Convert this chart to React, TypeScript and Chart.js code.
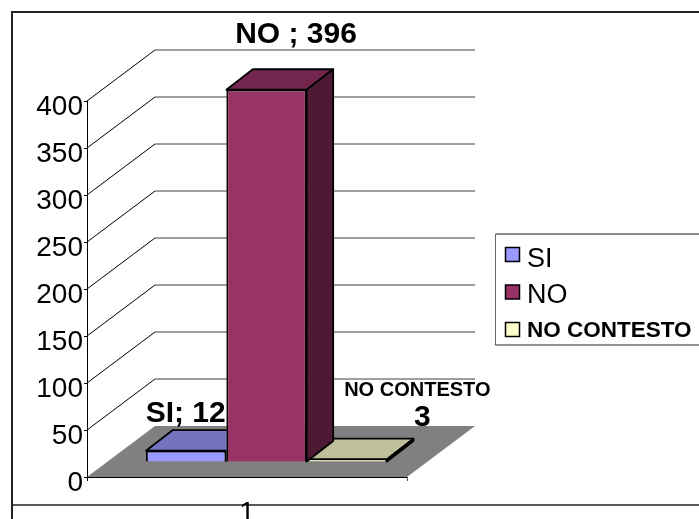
import React, { useEffect, useRef } from "react";
import { Chart, registerables } from "chart.js";

Chart.register(...registerables);

const categories = ["1"];
const seriesNames = ["SI", "NO", "NO CONTESTO"];
const siValues = [12];
const noValues = [396];
const ncValues = [3];
const yTicks = [0, 50, 100, 150, 200, 250, 300, 350, 400];
const frontColors = ["#9999FF", "#993366", "#FFFFCC"];
const topColors = ["#7373BF", "#73264D", "#BFBF99"];
const sideColors = ["#4D4D80", "#4D1A33", "#808066"];

const FONT = '"Liberation Sans", Arial, sans-serif';
const WALL = { dx: 68, dy: 51 };
const BAR = { dx: 26.5, dy: 20.5, shiftX: 19.5, shiftY: 15 };

function line(ctx: any, x1: number, y1: number, x2: number, y2: number, color = "#000", w = 1) {
  ctx.strokeStyle = color;
  ctx.lineWidth = w;
  ctx.beginPath();
  ctx.moveTo(x1, y1);
  ctx.lineTo(x2, y2);
  ctx.stroke();
}

function poly(ctx: any, pts: number[][], fill: string) {
  ctx.fillStyle = fill;
  ctx.strokeStyle = "#000";
  ctx.lineWidth = 1.8;
  ctx.lineJoin = "round";
  ctx.beginPath();
  pts.forEach((p, i) => (i ? ctx.lineTo(p[0], p[1]) : ctx.moveTo(p[0], p[1])));
  ctx.closePath();
  ctx.fill();
  ctx.stroke();
}

function text(ctx: any, s: string, x: number, y: number, font: string, align: any = "center") {
  ctx.font = font;
  ctx.fillStyle = "#000";
  ctx.textAlign = align;
  ctx.textBaseline = "middle";
  ctx.fillText(s, x, y);
}

const walls = {
  id: "walls",
  beforeDraw(chart: any) {
    const { ctx, width, height } = chart;
    ctx.save();
    ctx.fillStyle = "#fff";
    ctx.fillRect(0, 0, width, height);
    line(ctx, 11, 12, width, 12, "#222", 2);
    line(ctx, 12, 11, 12, height, "#222", 2);
    line(ctx, 11, 505, width, 505, "#222", 1.5);
    ctx.restore();
  },
  beforeDatasetsDraw(chart: any) {
    const { ctx, chartArea: a, scales } = chart;
    const y = scales.y;
    ctx.save();
    const y0 = y.getPixelForValue(0);
    ctx.fillStyle = "#808080";
    ctx.beginPath();
    ctx.moveTo(a.left, y0);
    ctx.lineTo(a.right, y0);
    ctx.lineTo(a.right + WALL.dx, y0 - WALL.dy);
    ctx.lineTo(a.left + WALL.dx, y0 - WALL.dy);
    ctx.closePath();
    ctx.fill();
    yTicks.forEach((v) => {
      if (v === 0) return;
      const py = y.getPixelForValue(v);
      line(ctx, a.left, py, a.left + WALL.dx, py - WALL.dy);
      line(ctx, a.left + WALL.dx, py - WALL.dy, a.right + WALL.dx, py - WALL.dy, "#404040", 1);
    });
    line(ctx, a.left, y0 + 0.5, a.right, y0 + 0.5);
    line(ctx, a.right + 0.5, y0, a.right + 0.5, y0 + 4, "#555");
    line(ctx, a.left + 0.5, y0, a.left + 0.5, y0 + 4);
    ctx.restore();
  },
  beforeDatasetDraw(chart: any, args: any) {
    const { ctx } = chart;
    const el = chart.getDatasetMeta(args.index).data[0];
    const i = args.index;
    const l = el.x - el.width / 2;
    const r = el.x + el.width / 2;
    const t = el.y;
    const b = el.base;
    ctx.save();
    ctx.translate(BAR.shiftX, -BAR.shiftY);
    if (i === 0) {
      // The taller neighbour stands in front of this bar's depth faces.
      const next = chart.getDatasetMeta(1).data[0];
      ctx.beginPath();
      ctx.rect(0, 0, next.x - next.width / 2, chart.height);
      ctx.clip();
    }
    poly(ctx, [[l, t], [r, t], [r + BAR.dx, t - BAR.dy], [l + BAR.dx, t - BAR.dy]], topColors[i]);
    poly(ctx, [[r, t], [r, b], [r + BAR.dx, b - BAR.dy], [r + BAR.dx, t - BAR.dy]], sideColors[i]);
  },
  afterDatasetDraw(chart: any) {
    chart.ctx.restore();
  },
  afterDatasetsDraw(chart: any) {
    const { ctx, width } = chart;
    const si = chart.getDatasetMeta(0).data[0];
    const no = chart.getDatasetMeta(1).data[0];
    const nc = chart.getDatasetMeta(2).data[0];
    const big = `bold 30px ${FONT}`;
    ctx.save();
    text(ctx, `${seriesNames[0]}; ${siValues[0]}`, si.x + 19, si.y - 52, big);
    text(ctx, `${seriesNames[1]} ; ${noValues[0]}`, no.x + 49, no.y - 70, big);
    text(ctx, seriesNames[2], nc.x + 90, nc.y - 84, `bold 20px ${FONT}`);
    text(ctx, `${ncValues[0]}`, nc.x + 95, nc.y - 56, big);

    // legend
    line(ctx, 495.5, 234, width, 234, "#666", 1.5);
    line(ctx, 495.5, 234, 495.5, 345, "#666", 1);
    line(ctx, 495.5, 345, width, 345, "#222", 1);
    const rows = [254.5, 292, 329.5];
    const textRows = [260, 296, 331];
    rows.forEach((ry, i) => {
      ctx.fillStyle = frontColors[i];
      ctx.strokeStyle = "#000";
      ctx.lineWidth = 1.5;
      ctx.fillRect(505.5, ry - 7, 14, 14);
      ctx.strokeRect(505.5, ry - 7, 14, 14);
      text(ctx, seriesNames[i], 527, textRows[i], i === 2 ? `bold 22.5px ${FONT}` : `27px ${FONT}`, "left");
    });
    ctx.restore();
  },
};

export default function App() {
  const ref = useRef<HTMLCanvasElement>(null);
  useEffect(() => {
    const chart = new Chart(ref.current!, {
      type: "bar",
      data: {
        labels: categories,
        datasets: [siValues, noValues, ncValues].map((d, i) => ({
          label: seriesNames[i],
          data: d,
          backgroundColor: frontColors[i],
          borderColor: "#000",
          borderWidth: 1.8,
          categoryPercentage: 241 / 320,
          barPercentage: 1,
        })),
      },
      options: {
        responsive: false,
        animation: false,
        clip: false,
        layout: { padding: { top: 101, right: 292, left: 0, bottom: 0 } },
        plugins: { legend: { display: false }, tooltip: { enabled: false }, title: { display: false } },
        scales: {
          x: {
            grid: { display: false },
            border: { display: false },
            ticks: { color: "#000", padding: 11, font: { family: FONT, size: 28 } },
            afterFit: (s: any) => { s.height = 42; },
          },
          y: {
            min: 0,
            max: 400,
            afterFit: (s: any) => { s.width = 87; },
            grid: { display: true, drawOnChartArea: false, drawTicks: true, tickLength: 3, color: "#000" },
            border: { color: "#000", width: 1 },
            ticks: { stepSize: 50, color: "#000", padding: 1, labelOffset: 6, font: { family: FONT, size: 28 } },
          },
        },
      } as any,
      plugins: [walls],
    });
    return () => chart.destroy();
  }, []);
  return (
    <canvas
      ref={ref}
      width={699}
      height={519}
      style={{ position: "absolute", left: 0, top: 0, width: 699, height: 519 }}
    />
  );
}
